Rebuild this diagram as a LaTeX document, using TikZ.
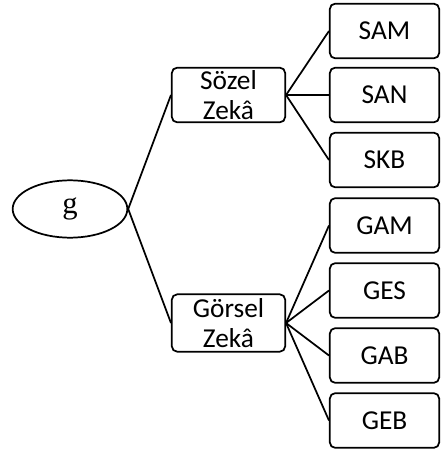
\documentclass[tikz,border=0pt]{standalone}
\usepackage{fontspec}
\setmainfont{Carlito}
\newfontfamily\gfont{Liberation Serif}
\usetikzlibrary{shapes.geometric}

\begin{document}
\begin{tikzpicture}[x=0.75pt,y=-0.75pt,
  leaf/.style={draw,line width=1.3pt,rounded corners=4pt,minimum width=82pt,minimum height=41pt,font=\fontsize{20.5}{23}\selectfont},
  factor/.style={leaf,minimum width=85pt,inner sep=1pt,align=center},
  root/.style={draw,line width=1.3pt,ellipse,minimum width=86pt,minimum height=43pt,font=\fontsize{23}{26}\gfont},
  link/.style={line width=1.3pt}]
  \useasboundingbox (0,0) rectangle (441,452);
  % general factor
  \node[root] (g) at (70,209) {g};
  % group factors
  \node[factor] (soz) at (228.5,95) {Sözel\\Zekâ};
  \node[factor,minimum height=43pt] (gor) at (228.5,323) {Görsel\\Zekâ};
  % tests
  \node[leaf] (sam) at (384.5,31) {SAM};
  \node[leaf] (san) at (384.5,95) {SAN};
  \node[leaf] (skb) at (384.5,160) {SKB};
  \node[leaf] (gam) at (384.5,225.5) {GAM};
  \node[leaf] (ges) at (384.5,290.5) {GES};
  \node[leaf] (gab) at (384.5,355.5) {GAB};
  \node[leaf] (geb) at (384.5,420.5) {GEB};
  \draw[link] (g.east) -- (soz.west);
  \draw[link] (g.east) -- (gor.west);
  \foreach \t in {sam,san,skb} \draw[link] (soz.east) -- (\t.west);
  \foreach \t in {gam,ges,gab,geb} \draw[link] (gor.east) -- (\t.west);
\end{tikzpicture}
\end{document}
